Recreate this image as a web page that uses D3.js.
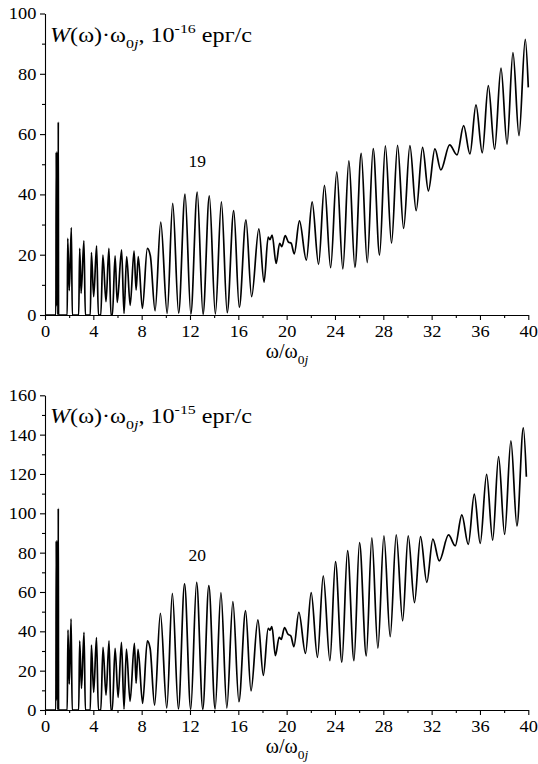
<!DOCTYPE html>
<html><head><meta charset="utf-8">
<script src="https://cdn.jsdelivr.net/npm/d3@7"></script>
</head>
<body style="margin:0;background:#fff">
<svg id="c" width="538" height="764"></svg>
<script>
// ---------- data ----------
const xTicksMajor = [0,4,8,12,16,20,24,28,32,36,40];
const xTicksMinor = [2,6,10,14,18,22,26,30,34,38];
const yTicksTopMajor = [0,20,40,60,80,100];
const yTicksTopMinor = [10,30,50,70,90];
const yTicksBotMajor = [0,20,40,60,80,100,120,140,160];
const yTicksBotMinor = [10,30,50,70,90,110,130,150];

// mode 19 (top) : [ω/ω0j, W·ω0j (1e-16 erg/s)]
const topSeries = [
[0,0],[0.9,0],[0.93,54],[0.96,3],[0.99,54],[1.02,3],[1.04,54],[1.07,0],[1.1,64],[1.12,0],
[1.84,0],[1.88,25.4],[2.01,8.1],[2.18,29],[2.26,0],
[2.79,0],[2.87,22.1],[2.99,7.2],[3.22,24.6],[3.34,0],
[3.75,0],[3.84,20.7],[4.03,6.1],[4.27,22.9],[4.42,0],
[4.62,0],[4.79,19.9],[5.05,4.4],[5.29,22.1],[5.46,0],[5.58,0],
[5.8,19.6],[5.98,4.2],[6.34,21.6],[6.54,0.5],[6.76,19.4],[7.05,3.2],[7.37,21.2],[7.54,8.3],[7.72,19.4],
[8.06,2.2],[8.47,22.1],[8.72,19.6],[9.11,1.4],[9.58,30.8],[10.11,0.5],[10.57,37.0],[11.06,0.6],
[11.59,40.1],[12.07,0.3],[12.6,40.8],[13.08,0.2],[13.6,39.5],[14.1,0.3],[14.6,37.5],[15.08,0.8],
[15.62,34.6],[16.08,2.5],[16.63,31.6],[17.1,6.1],[17.7,28.6],[18.13,10.9],[18.47,25.8],[18.62,25.0],
[18.8,26.5],[19.13,17.1],[19.42,23.8],[19.6,22.7],[19.88,26.3],[20.15,24.2],[20.37,23.8],[20.63,20.3],
[21.06,31.2],[21.63,18.2],[22.11,37.5],[22.64,16.8],[23.13,43.0],[23.64,15.7],[24.15,47.5],[24.65,15.3],
[25.15,51.1],[25.65,15.8],[26.17,53.6],[26.67,17.4],[27.16,55.2],[27.69,19.9],[28.17,56.1],[28.68,23.8],
[29.18,56.3],[29.68,28.7],[30.2,56.2],[30.72,34.6],[31.25,55.6],[31.73,41.2],[32.27,55.1],[32.76,48.1],
[33.49,56.4],[34.1,53.1],[34.65,62.8],[35.17,53.4],[35.67,69.7],[36.19,53.8],[36.69,76.1],[37.21,55],
[37.74,81.9],[38.24,56.7],[38.73,87],[39.23,59.5],[39.75,91.4],[40,75.5]
];

// mode 20 (bottom) : [ω/ω0j, W·ω0j (1e-15 erg/s)]
const botSeries = [
[0,0],[0.9,0],[0.93,86],[0.96,5],[0.99,86],[1.02,5],[1.04,86],[1.07,0],[1.1,102.5],[1.12,0],
[1.84,0],[1.9,40.7],[2.01,13.2],[2.16,46.3],[2.25,0],
[2.79,0],[2.87,35.1],[3.02,11],[3.23,39.5],[3.34,0],
[3.75,0],[3.84,33],[4.03,9],[4.26,36.8],[4.42,0],
[4.62,0],[4.8,31.9],[5.05,7.6],[5.3,35.2],[5.45,0],[5.57,0],
[5.8,31.4],[6.05,6.4],[6.33,34.4],[6.54,0.5],[6.74,31],[7.04,4.4],[7.4,33.9],[7.54,13.6],[7.7,30.8],
[8.08,3.4],[8.47,35.1],[8.7,31.4],[9.07,2.5],[9.55,49.2],[10.08,1],[10.54,59.3],[11.04,0.5],
[11.55,64.1],[12.06,0.3],[12.55,64.9],[13.06,0.3],[13.56,63.2],[14.08,0.5],[14.56,59.7],[15.05,1],
[15.55,55.1],[16.05,4.2],[16.6,50.5],[17.05,9.7],[17.62,45.8],[18.07,17.6],[18.47,41.5],[18.62,40.6],
[18.78,42.4],[19.07,27.6],[19.38,37],[19.55,35.9],[19.82,41.9],[20.1,38.6],[20.35,37.6],[20.6,32.2],
[21.01,49.7],[21.56,28.8],[22.03,59.7],[22.55,26.8],[23.03,68.2],[23.58,25.1],[24.04,75.4],[24.57,24.3],
[25.04,81],[25.57,25.1],[26.03,85.1],[26.59,27.5],[27.05,87.5],[27.55,31.4],[28.05,88.6],[28.57,37.3],
[29.07,89.1],[29.6,45.3],[30.06,88.6],[30.58,54.6],[31.08,88.1],[31.6,64.9],[32.1,86.9],[32.63,75.8],
[33.4,89],[33.95,83.5],[34.5,99.2],[35.03,84.2],[35.53,109.8],[36.02,84.7],[36.55,119.8],[37.05,86.4],
[37.54,128.8],[38.04,89.3],[38.56,136.8],[39.06,93.6],[39.59,143.5],[39.84,118.6]
];

const panels = [
  {series: topSeries, yMax: 100, yMaj: yTicksTopMajor, yMin: yTicksTopMinor, exp: "-16", mode: "19", modeX: 12.6, modeY: 49},
  {series: botSeries, yMax: 160, yMaj: yTicksBotMajor, yMin: yTicksBotMinor, exp: "-15", mode: "20", modeX: 12.6, modeY: 76}
];

// ---------- layout ----------
const FONT = "'Liberation Serif', 'Times New Roman', serif";
const L = {x0: 45, x1: 528.3, panels: [{top: 13.5, bottom: 315}, {top: 395.3, bottom: 710}]};
const svg = d3.select("#c").style("font-family", FONT);
const x = d3.scaleLinear().domain([0, 40]).range([L.x0, L.x1]);

panels.forEach((p, i) => {
  const box = L.panels[i];
  const y = d3.scaleLinear().domain([0, p.yMax]).range([box.bottom, box.top]);
  const g = svg.append("g");

  // minor ticks
  g.append("g").attr("transform", `translate(0,${box.bottom})`)
    .call(d3.axisBottom(x).tickValues(xTicksMinor).tickSize(3).tickSizeOuter(0).tickFormat(""))
    .call(a => a.select(".domain").remove());
  g.append("g").attr("transform", `translate(${L.x0},0)`)
    .call(d3.axisLeft(y).tickValues(p.yMin).tickSize(3).tickSizeOuter(0).tickFormat(""))
    .call(a => a.select(".domain").remove());

  // major axes
  const xa = g.append("g").attr("transform", `translate(0,${box.bottom})`)
    .call(d3.axisBottom(x).tickValues(xTicksMajor).tickSize(5).tickSizeOuter(0).tickPadding(4));
  xa.selectAll("text").attr("font-size", 17).attr("dy", "0.78em").attr("transform", "scale(1.08,1)");
  const ya = g.append("g").attr("transform", `translate(${L.x0},0)`)
    .call(d3.axisLeft(y).tickValues(p.yMaj).tickSize(5).tickSizeOuter(0).tickPadding(3));
  ya.selectAll("text").attr("font-size", 17).attr("transform", "scale(1.08,1)");
  g.selectAll(".domain, .tick line").attr("stroke", "#000").attr("stroke-width", 1.1);
  g.selectAll("g").attr("font-family", null);

  // curve
  const line = d3.line().x(d => x(d[0])).y(d => y(d[1])).curve(d3.curveMonotoneX);
  g.append("path").datum(p.series).attr("d", line)
    .attr("fill", "none").attr("stroke", "#000").attr("stroke-width", 1.7).attr("stroke-linejoin", "round");

  // y title
  const t = g.append("text").attr("x", 50).attr("y", box.top + 28).attr("font-size", 20.5);
  t.append("tspan").attr("font-style", "italic").text("W");
  t.append("tspan").text("(ω)·ω");
  t.append("tspan").attr("font-size", 13.5).attr("dy", 6).text("0");
  t.append("tspan").attr("font-size", 13.5).attr("font-style", "italic").text("j");
  t.append("tspan").attr("dy", -6).text(", 10");
  t.append("tspan").attr("font-size", 13.5).attr("dy", -9).text(p.exp);
  t.append("tspan").attr("dy", 9).text(" ерг/с");
  t.attr("textLength", 202).attr("lengthAdjust", "spacingAndGlyphs");

  // mode label
  g.append("text").attr("x", x(p.modeX)).attr("y", y(p.modeY)).attr("font-size", 17.5)
    .attr("text-anchor", "middle").text(p.mode);

  // x title
  const xt = g.append("text").attr("x", 287).attr("y", box.bottom + 43).attr("font-size", 20).attr("text-anchor", "middle");
  xt.append("tspan").text("ω/ω");
  xt.append("tspan").attr("font-size", 13.5).attr("dy", 6).text("0");
  xt.append("tspan").attr("font-size", 13.5).attr("font-style", "italic").text("j");
});
svg.selectAll("text").style("font-family", FONT).attr("fill", "#000");
</script></body></html>
